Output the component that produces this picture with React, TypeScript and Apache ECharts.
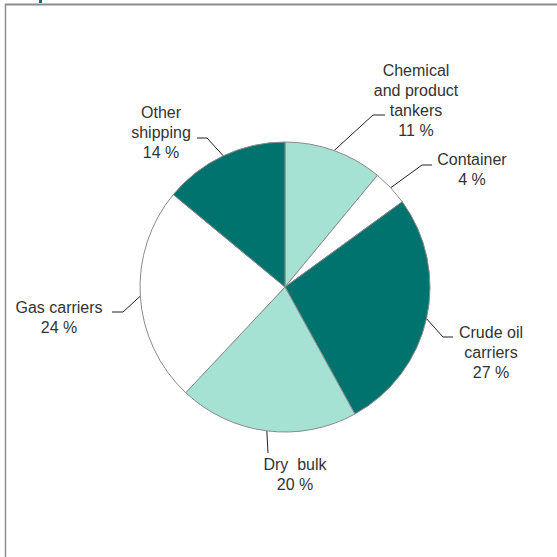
import React, { useEffect, useRef } from "react";
import * as echarts from "echarts";

const categories = [
  "Chemical and product tankers",
  "Container",
  "Crude oil carriers",
  "Dry bulk",
  "Gas carriers",
  "Other shipping",
];
const labelNames = [
  "Chemical\nand product\ntankers",
  "Container",
  "Crude oil\ncarriers",
  "Dry  bulk",
  "Gas carriers",
  "Other\nshipping",
];
const shares = [11, 4, 27, 20, 24, 14];
const sliceColors = ["#a6e2d4", "#ffffff", "#00736e", "#a6e2d4", "#ffffff", "#00736e"];

// label block centres and leader-line elbow/end points (page pixels)
const labelLayouts = [
  { x: 416, y: 100, elbow: [373, 115], end: [385, 115] },
  { x: 472, y: 169, elbow: [422, 165], end: [432, 165] },
  { x: 491, y: 352, elbow: [443, 337], end: [453, 337] },
  { x: 295, y: 474, elbow: [268, 453], end: [268, 453] },
  { x: 59, y: 317, elbow: [123, 312], end: [112, 312] },
  { x: 161, y: 132, elbow: [207, 138], end: [197, 138] },
];

export default function App() {
  const ref = useRef<HTMLDivElement>(null);
  useEffect(() => {
    if (!ref.current) return;
    const chart = echarts.init(ref.current, undefined, { renderer: "svg" });
    chart.setOption({
      animation: false,
      backgroundColor: "#ffffff",
      graphic: [
        { type: "line", shape: { x1: 5, y1: 4.5, x2: 557, y2: 4.5 }, style: { stroke: "#8c8c8c", lineWidth: 2 } },
        { type: "line", shape: { x1: 5.5, y1: 4, x2: 5.5, y2: 557 }, style: { stroke: "#8c8c8c", lineWidth: 1.5 } },
        { type: "rect", shape: { x: 39, y: 0, width: 3, height: 3 }, style: { fill: "#00736e" } },
      ],
      series: [
        {
          type: "pie",
          center: [285, 287],
          radius: 145,
          startAngle: 90,
          clockwise: true,
          avoidLabelOverlap: false,
          itemStyle: { borderColor: "#8a8a8a", borderWidth: 1 },
          label: {
            show: true,
            position: "outside",
            fontFamily: "Liberation Sans, Arial, sans-serif",
            fontSize: 16,
            lineHeight: 20,
            color: "#333333",
            align: "center",
            formatter: (p: any) => `${labelNames[p.dataIndex]}\n${p.value} %`,
          },
          labelLine: { show: true, lineStyle: { color: "#222222", width: 1 } },
          labelLayout: (params: any) => {
            const l = labelLayouts[params.dataIndex];
            const start = params.labelLinePoints ? params.labelLinePoints[0] : l.elbow;
            return {
              x: l.x,
              y: l.y,
              align: "center",
              verticalAlign: "middle",
              labelLinePoints: [start, l.elbow, l.end],
            };
          },
          data: categories.map((name, i) => ({
            name,
            value: shares[i],
            itemStyle: { color: sliceColors[i] },
          })),
        },
      ],
    });
    return () => chart.dispose();
  }, []);
  return (
    <div
      ref={ref}
      style={{ position: "absolute", left: 0, top: 0, width: 557, height: 557 }}
    />
  );
}
